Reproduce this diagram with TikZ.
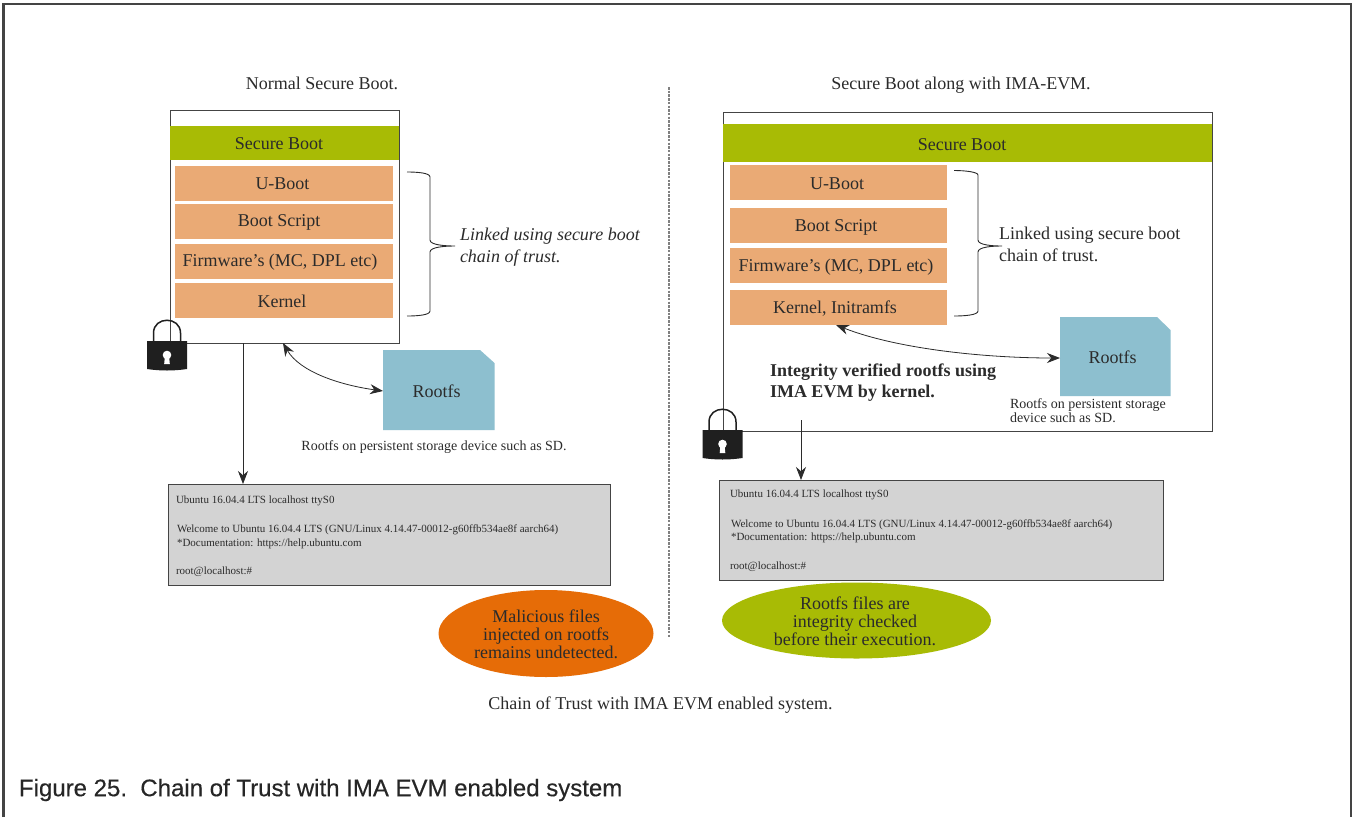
\documentclass[tikz,border=0pt]{standalone}
\usepackage{fontspec}
\setmainfont{Liberation Serif}
\newfontfamily\capfont[FakeBold=0.3]{Liberation Sans}
\usetikzlibrary{shapes.geometric,arrows.meta}
\definecolor{txt}{HTML}{2B2B2B}
\definecolor{lime}{HTML}{A8BB05}
\definecolor{peach}{HTML}{EAAA75}
\definecolor{sky}{HTML}{8DBFCF}
\definecolor{termgray}{HTML}{D3D3D3}
\definecolor{rust}{HTML}{E66C07}
\definecolor{edgegray}{HTML}{444444}
\tikzset{
  x=1pt,y=-1pt,
  every node/.style={text=txt,font=\fontsize{18}{20}\selectfont,inner sep=0pt,outer sep=0pt},
  lab/.style={text height=12.6pt,text depth=0pt},
  panel/.style={draw=edgegray,line width=1pt,fill=white,anchor=north west},
  limebar/.style={fill=lime,anchor=north west},
  peachbox/.style={fill=peach,anchor=north west},
  term/.style={draw=edgegray,line width=1pt,fill=termgray,anchor=north west},
  termtext/.style={anchor=west,text height=8.6pt,text depth=0pt,font=\fontsize{11}{12}\selectfont},
  oval/.style={ellipse},
  ovaltext/.style={align=center,font=\fontsize{18}{18}\selectfont},
  note/.style={anchor=west,align=left,font=\fontsize{18}{21.5}\selectfont},
  smallnote/.style={font=\fontsize{14}{14}\selectfont},
  arrowline/.style={draw=txt,line width=0.8pt,-{Stealth[length=13pt,width=10pt]}},
  bothline/.style={draw=txt,line width=0.8pt,{Stealth[length=13pt,width=10pt]}-{Stealth[length=13pt,width=10pt]}},
  bracket/.style={draw=txt,line width=0.9pt},
  doc/.style={fill=sky},
  locksolid/.style={fill=black!88},
  lockloop/.style={draw=black!88,line width=1.5pt},
}
\newcommand{\padlock}[2]{%
  \draw[lockloop] (#1-13.5,#2) -- (#1-13.5,#2-9) .. controls (#1-13.5,#2-26) and (#1+13.5,#2-26) .. (#1+13.5,#2-9) -- (#1+13.5,#2);
  \fill[locksolid] (#1-20,#2-1) -- (#1+20,#2-1) -- (#1+20,#2+27) .. controls (#1+7,#2+29) and (#1-7,#2+29) .. (#1-20,#2+27) -- cycle;
  \fill[white] (#1,#2+13) circle (4.3pt);
  \fill[white] (#1-2,#2+13) -- (#1+2,#2+13) -- (#1+2.8,#2+22) -- (#1-2.8,#2+22) -- cycle;
}
\begin{document}
\begin{tikzpicture}
\useasboundingbox[fill=white] (0,0) rectangle (1352,817);
% page frame
\draw[draw=edgegray,line width=2.2pt] (3.5,817) -- (3.5,4) -- (1351,4) -- (1351,817);

% titles
\node[lab] (ltitle) at (322,83) {Normal Secure Boot.};
\node[lab] (rtitle) at (961,83) {Secure Boot along with IMA-EVM.};
\draw[draw=gray,line width=1.2pt,dash pattern=on 2.5pt off 1.2pt] (669,87) -- (669,638);

% left panel
\node[panel,minimum width=229pt,minimum height=233pt] (lpanel) at (170,110) {};
\node[limebar,minimum width=229pt,minimum height=34pt] (lsb) at (170,126) {};
\node[lab] (lsbt) at (279,143) {Secure Boot};
\node[peachbox,minimum width=218pt,minimum height=35pt] (lu) at (175,166) {};
\node[lab] (lut) at (282.5,183) {U-Boot};
\node[peachbox,minimum width=218pt,minimum height=35pt] (lb) at (175,204) {};
\node[lab] (lbt) at (279,220) {Boot Script};
\node[peachbox,minimum width=218pt,minimum height=35pt] (lf) at (175,244) {};
\node[lab] (lft) at (280,260) {Firmware's (MC, DPL etc)};
\node[peachbox,minimum width=218pt,minimum height=35pt] (lk) at (175,283) {};
\node[lab] (lkt) at (282,301) {Kernel};
\draw[bracket] (407,172) .. controls (418,172) and (430,173) .. (430,177) -- (430,240) .. controls (430,245) and (445,246) .. (455,246) .. controls (445,246) and (430,247) .. (430,252) -- (430,311) .. controls (430,315) and (418,316) .. (407,316);
\node[note,font=\fontsize{18}{21.5}\selectfont\itshape] (llink) at (460,247) {Linked using secure boot\\chain of trust.};
\padlock{167}{342}

% left rootfs
\fill[doc] (383,350) -- (480,350) -- (494.5,363) -- (494.5,430) -- (383,430) -- cycle;
\node[lab] (lroot) at (436.5,391) {Rootfs};
\coordinate (lrootw) at (383,391);
\coordinate (lpanelb) at (283,343);
\draw[bothline] (lpanelb) .. controls (300,372) and (340,385) .. (lrootw);
\node[smallnote,text height=9.6pt,text depth=0pt] (lnote) at (434,446) {Rootfs on persistent storage device such as SD.};
\coordinate (lpanelc) at (243,343);
\coordinate (ltermt) at (243,484);
\draw[arrowline] (lpanelc) -- (ltermt);

% left terminal
\node[term,minimum width=442pt,minimum height=101pt] (lterm) at (168,484) {};
\node[termtext] (lt1) at (176,499) {Ubuntu 16.04.4 LTS localhost ttyS0};
\node[termtext] (lt2) at (177,528) {Welcome to Ubuntu 16.04.4 LTS (GNU/Linux 4.14.47-00012-g60ffb534ae8f aarch64)};
\node[termtext] (lt3) at (177,542.5) {*Documentation: https://help.ubuntu.com};
\node[termtext] (lt4) at (176,570.5) {root@localhost:\#};

\node[oval,fill=rust,minimum width=215pt,minimum height=87pt] (lov) at (546,633.5) {};
\node[ovaltext] (lovt) at (546,634.5) {Malicious files\\[0pt]injected on rootfs\\[0pt]remains undetected.};

% right panel
\node[panel,minimum width=489pt,minimum height=319pt] (rpanel) at (723,112.5) {};
\node[limebar,minimum width=489pt,minimum height=38pt] (rsb) at (723,124) {};
\node[lab] (rsbt) at (962,144.5) {Secure Boot};
\node[peachbox,minimum width=217pt,minimum height=35pt] (ru) at (730,165) {};
\node[lab] (rut) at (837,183) {U-Boot};
\node[peachbox,minimum width=217pt,minimum height=35pt] (rb) at (730,208) {};
\node[lab] (rbt) at (836,225) {Boot Script};
\node[peachbox,minimum width=217pt,minimum height=35pt] (rf) at (730,248) {};
\node[lab] (rft) at (836,265) {Firmware's (MC, DPL etc)};
\node[peachbox,minimum width=217pt,minimum height=35pt] (rk) at (730,290) {};
\node[lab] (rkt) at (835,307.5) {Kernel, Initramfs};
\draw[bracket] (954,170.5) .. controls (965,170.5) and (978,172) .. (978,175) -- (978,240) .. controls (978,245) and (992,246) .. (1002,246) .. controls (992,246) and (978,247) .. (978,252) -- (978,311) .. controls (978,315) and (965,316) .. (954,316);
\node[note] (rlink) at (999,244.5) {Linked using secure boot\\chain of trust.};

% right rootfs
\fill[doc] (1060,317) -- (1157,317) -- (1170.5,330) -- (1170.5,396) -- (1060,396) -- cycle;
\node[lab] (rroot) at (1112.5,357) {Rootfs};
\coordinate (rrootw) at (1060,358);
\coordinate (rkb) at (836,325);
\draw[bothline] (rkb) .. controls (900,350) and (990,358) .. (rrootw);
\node[anchor=west,align=left,font=\fontsize{18}{21.5}\selectfont\bfseries] (rverify) at (770,382.5) {Integrity verified rootfs using\\IMA EVM by kernel.};
\node[smallnote,anchor=west,align=left] (rnote) at (1010,410.5) {Rootfs on persistent storage\\device such as SD.};
\padlock{722.5}{431}
\coordinate (rarrs) at (801,420);
\coordinate (rtermt) at (801,480);
\draw[arrowline] (rarrs) -- (rtermt);

% right terminal
\node[term,minimum width=444pt,minimum height=100pt] (rterm) at (719,480) {};
\node[termtext] (rt1) at (730,493.5) {Ubuntu 16.04.4 LTS localhost ttyS0};
\node[termtext] (rt2) at (731,523) {Welcome to Ubuntu 16.04.4 LTS (GNU/Linux 4.14.47-00012-g60ffb534ae8f aarch64)};
\node[termtext] (rt3) at (731,536.5) {*Documentation: https://help.ubuntu.com};
\node[termtext] (rt4) at (730,565.5) {root@localhost:\#};

\node[oval,fill=lime,minimum width=269pt,minimum height=76pt] (rov) at (856.5,620.5) {};
\node[ovaltext] (rovt) at (855,621.5) {Rootfs files are\\[0pt]integrity checked\\[0pt]before their execution.};

\node[lab] (bottom) at (660.5,703) {Chain of Trust with IMA EVM enabled system.};
\node[anchor=west,font=\capfont\fontsize{24}{26}\selectfont,text=black!85] (figcap) at (19,790) {Figure 25.\ \ Chain of Trust with IMA EVM enabled system};
\end{tikzpicture}
\end{document}
